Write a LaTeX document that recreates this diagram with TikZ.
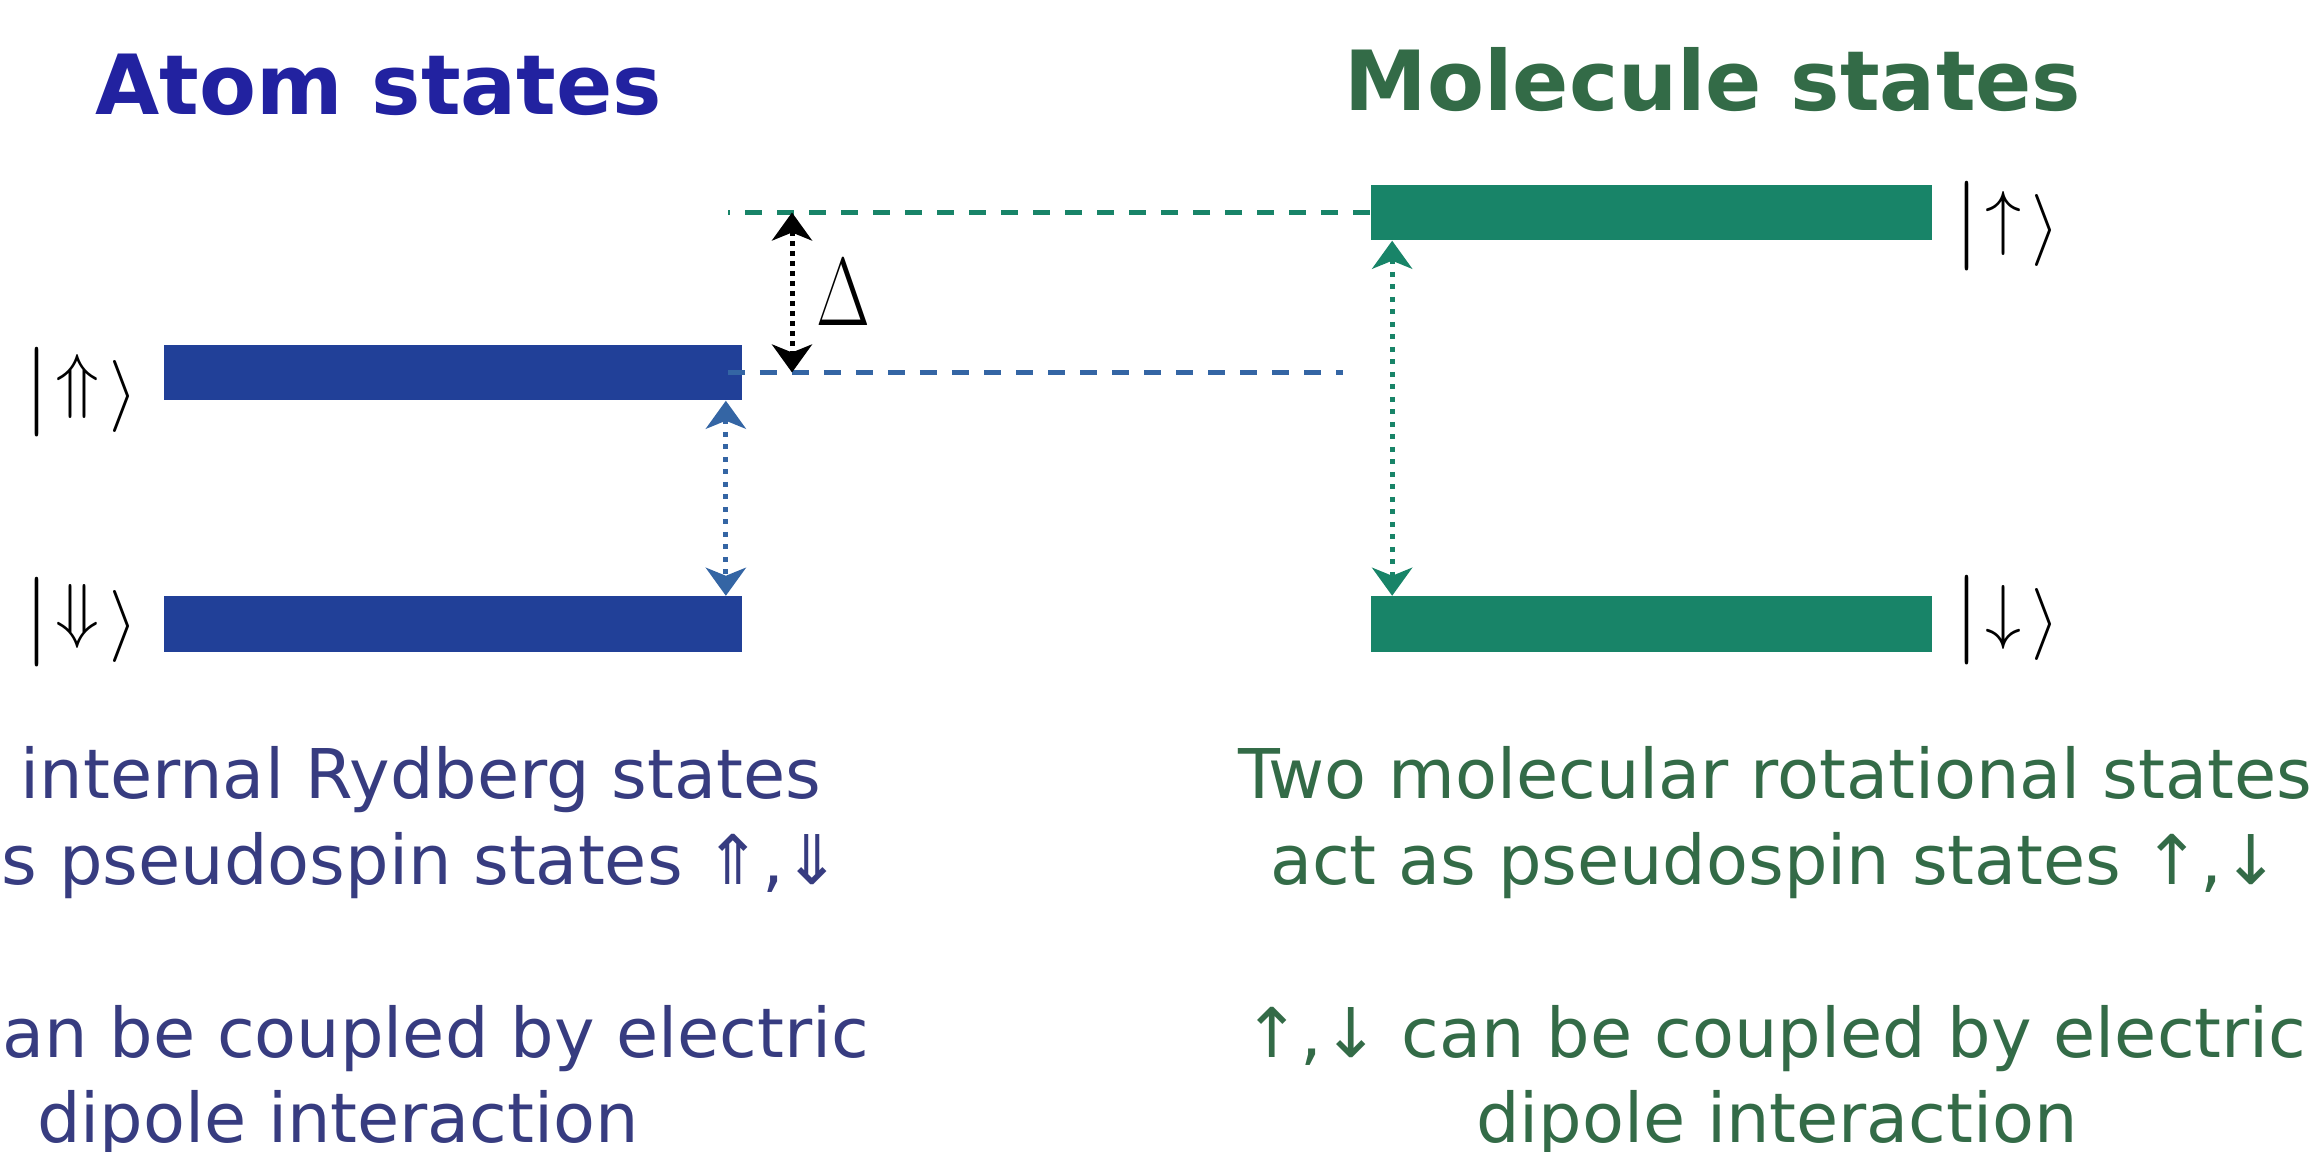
\RequirePackage{fix-cm}
\documentclass[tikz,border=0pt]{standalone}
\usepackage{fontspec}
\setmainfont{DejaVu Sans}
\usepackage{graphicx}
\usetikzlibrary{arrows.meta, positioning}
\definecolor{atomblue}{RGB}{33, 64, 152}
\definecolor{atomtitle}{RGB}{34, 34, 160}
\definecolor{atomtext}{RGB}{55, 60, 128}
\definecolor{atomdash}{RGB}{52, 101, 164}
\definecolor{molgreen}{RGB}{24, 132, 104}
\definecolor{moltext}{RGB}{51, 107, 71}
\newcommand{\ketstate}[2]{{\fontsize{25.5}{30}\selectfont$|$}\hspace{0.06cm}{\fontsize{20.5}{24}\selectfont\raisebox{#2}{$#1$}\hspace{0.1cm}$\rangle$}}

\begin{document}
\begin{tikzpicture}[x=0.01cm, y=-0.01cm,
        statebar/.style={inner sep=0, minimum height=0.55cm},
        ket/.style={inner sep=0},
        heading/.style={anchor=base, inner sep=0, font=\fontsize{23.6}{28}\selectfont\bfseries},
        caption/.style={inner sep=0, font=\fontsize{19.5}{24.5}\selectfont},
        gapline/.style={dash pattern=on 0.17cm off 0.15cm, line width=0.045cm},
        coupling/.style={>={Stealth[length=0.28cm, width=0.4cm, inset=0.08cm]}, <->, dash pattern=on 0.05cm off 0.075cm, line width=0.05cm}
    ]
    \useasboundingbox (0,0) rectangle (2321,1152);

    % headings
    \node[heading, text=atomtitle] (atomhead) at (379,115) {Atom states};
    \node[heading, text=moltext] (molhead) at (1713,111) {Molecule states};

    % levels
    \node[statebar, fill=atomblue, minimum width=5.78cm] (atomup) at (453,372.5) {};
    \node[statebar, fill=atomblue, minimum width=5.78cm] (atomdown) at (453,624) {};
    \node[statebar, fill=molgreen, minimum width=5.61cm] (molup) at (1651.5,212.5) {};
    \node[statebar, fill=molgreen, minimum width=5.61cm] (moldown) at (1651.5,624) {};

    % kets
    \node[ket, left=0.25cm of atomup, yshift=-0.2cm] (ketUp) {\ketstate{\Uparrow}{0.1cm}};
    \node[ket, left=0.25cm of atomdown, yshift=0.02cm] (ketDown) {\ketstate{\Downarrow}{0.1cm}};
    \node[ket, right=0.21cm of molup, yshift=-0.14cm] (ketup) {\ketstate{\uparrow}{0.07cm}};
    \node[ket, right=0.21cm of moldown, yshift=0.04cm] (ketdown) {\ketstate{\downarrow}{0.07cm}};

    % energy offset
    \coordinate (gend) at (728,212.5);
    \coordinate (bend) at (1343,372.5);
    \coordinate (dtop) at (792,212.5);
    \coordinate (dbot) at (792,372.5);
    \draw[gapline, molgreen] (molup.west) -- (gend);
    \draw[gapline, atomdash] ([xshift=-0.15cm]atomup.east) -- (bend);
    \draw[coupling, black, dash pattern=on 0.05cm off 0.05cm] (dtop) -- (dbot);
    \node[font=\fontsize{27.5}{30}\selectfont] (delta) at (843,292) {\scalebox{0.72}[1]{$\Delta$}};

    % couplings
    \draw[coupling, atomdash] ([xshift=-0.17cm]atomup.south east) -- ([xshift=-0.17cm]atomdown.north east);
    \draw[coupling, molgreen] ([xshift=0.22cm]molup.south west) -- ([xshift=0.22cm]moldown.north west);

    % captions
    \node[caption, text=atomtext, anchor=base east] (atomline1) at (822,798) {internal Rydberg states};
    \node[caption, text=atomtext, anchor=base east] (atomline2) at (842,884) {s pseudospin states ⇑,⇓};
    \node[caption, text=atomtext, anchor=base east] (atomline3) at (870,1057) {an be coupled by electric};
    \node[caption, text=atomtext, anchor=base] (atomline4) at (338,1142) {dipole interaction};
    \node[caption, text=moltext, anchor=base] (molline1) at (1775,798) {Two molecular rotational states};
    \node[caption, text=moltext, anchor=base] (molline2) at (1775,884) {act as pseudospin states ↑,↓};
    \node[caption, text=moltext, anchor=base] (molline3) at (1775,1057) {↑,↓ can be coupled by electric};
    \node[caption, text=moltext, anchor=base] (molline4) at (1777,1142) {dipole interaction};
\end{tikzpicture}
\end{document}
